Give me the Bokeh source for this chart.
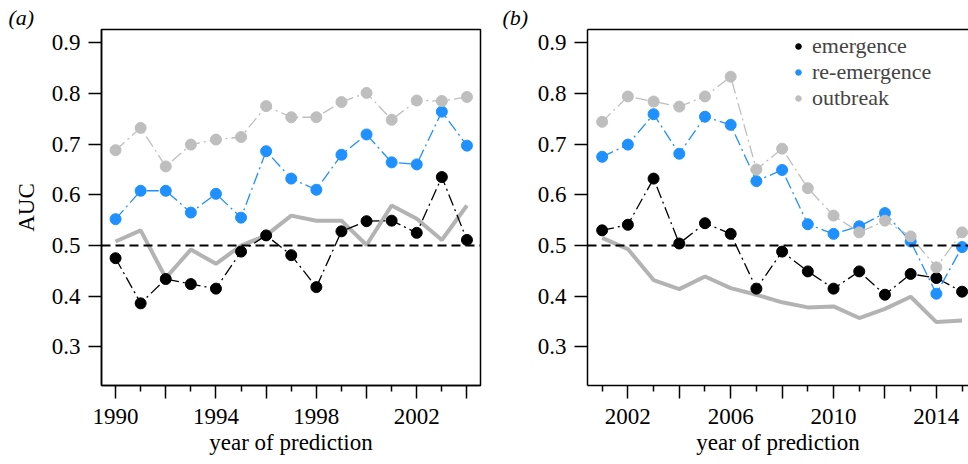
from bokeh.plotting import figure
from bokeh.models import Range1d, FixedTicker, Span, Legend, LegendItem, Title, LinearAxis
from bokeh.layouts import row
from bokeh.embed import file_html
from bokeh.resources import INLINE

# ---------------- data ----------------
years_a = list(range(1990, 2005))
emergence_a = [0.475, 0.386, 0.434, 0.424, 0.415, 0.488, 0.520, 0.481, 0.418, 0.528, 0.548, 0.549, 0.525, 0.635, 0.511]
reemergence_a = [0.552, 0.608, 0.608, 0.565, 0.602, 0.555, 0.686, 0.632, 0.610, 0.679, 0.719, 0.664, 0.660, 0.764, 0.697]
outbreak_a = [0.688, 0.732, 0.656, 0.699, 0.709, 0.714, 0.775, 0.753, 0.753, 0.783, 0.801, 0.748, 0.786, 0.785, 0.793]
baseline_a = [0.508, 0.530, 0.436, 0.492, 0.464, 0.500, 0.520, 0.559, 0.549, 0.549, 0.501, 0.579, 0.553, 0.511, 0.579]

years_b = list(range(2001, 2016))
emergence_b = [0.530, 0.541, 0.632, 0.504, 0.544, 0.523, 0.415, 0.488, 0.449, 0.415, 0.449, 0.403, 0.444, 0.436, 0.409]
reemergence_b = [0.675, 0.699, 0.759, 0.681, 0.754, 0.738, 0.627, 0.649, 0.542, 0.523, 0.538, 0.564, 0.508, 0.405, 0.497]
outbreak_b = [0.744, 0.794, 0.784, 0.774, 0.794, 0.833, 0.650, 0.691, 0.613, 0.559, 0.526, 0.549, 0.518, 0.457, 0.526]
baseline_b = [0.515, 0.493, 0.432, 0.414, 0.439, 0.416, 0.403, 0.388, 0.378, 0.380, 0.357, 0.375, 0.399, 0.349, 0.352]

y_ticks = [0.3, 0.4, 0.5, 0.6, 0.7, 0.8, 0.9]
x_major_a = list(range(1990, 2005, 2))
x_minor_a = list(range(1991, 2005, 2))
x_labels_a = [1990, 1994, 1998, 2002]
x_major_b = list(range(2002, 2016, 2))
x_minor_b = list(range(2001, 2016, 2))
x_labels_b = [2002, 2006, 2010, 2014]

series_names = ["emergence", "re-emergence", "outbreak"]
series_colors = ["#000000", "#1E90FF", "#BEBEBE"]
baseline_color = "#B3B3B3"
FONT = "Liberation Serif"
FS = "23px"


def make_panel(years, series, baseline, xr, major, minor, labels, width,
               border_left, border_right, ylabel, tag, tag_offset):
    p = figure(width=width, height=464, output_backend="svg", toolbar_location=None,
               x_range=Range1d(*xr), y_range=Range1d(0.224, 0.926),
               min_border_left=border_left, min_border_right=border_right,
               min_border_top=29, min_border_bottom=79)
    p.grid.visible = False
    p.background_fill_color = "white"
    p.border_fill_color = "white"
    p.outline_line_color = "black"
    p.outline_line_width = 1.5
    p.outline_line_alpha = 1.0

    p.title = Title(text=tag, align="left", offset=tag_offset, standoff=0,
                    text_font=FONT, text_font_size="22px", text_font_style="italic",
                    text_color="black", vertical_align="bottom")

    # axes
    xa = p.xaxis[0]
    xa.ticker = FixedTicker(ticks=major, minor_ticks=minor)
    xa.major_label_overrides = {t: (str(t) if t in labels else "") for t in major}
    xa.axis_label = "year of prediction"
    ya = p.yaxis[0]
    ya.ticker = FixedTicker(ticks=y_ticks, minor_ticks=[])
    ya.axis_label = ylabel
    for ax in (xa, ya):
        ax.axis_line_color = "black"
        ax.axis_line_width = 1.5
        ax.major_tick_line_color = "black"
        ax.major_tick_line_width = 1.5
        ax.major_tick_out = 13
        ax.major_tick_in = 0
        ax.minor_tick_line_color = "black"
        ax.minor_tick_line_width = 1.5
        ax.minor_tick_out = 6
        ax.minor_tick_in = 0
        ax.major_label_text_font = FONT
        ax.major_label_text_font_size = FS
        ax.major_label_text_color = "black"
        ax.axis_label_text_font = FONT
        ax.axis_label_text_font_size = FS
        ax.axis_label_text_font_style = "normal"
        ax.axis_label_text_color = "black"
    xa.major_label_standoff = 10
    xa.axis_label_standoff = 3
    ya.major_label_standoff = 8
    ya.axis_label_standoff = 10

    # thick gray baseline
    p.line(years, baseline, line_color=baseline_color, line_width=4)
    # reference line at 0.5
    span = Span(location=0.5, dimension="width", line_color="black",
                line_width=2, line_dash="9 5", level="glyph")
    p.add_layout(span)

    renderers = []
    for vals, col in zip(series, series_colors):
        p.line(years, vals, line_color=col, line_width=1.3, line_dash="12 4 2 4")
    for vals, col in zip(series, series_colors):
        r = p.scatter(years, vals, size=11, fill_color=col, line_color=col)
        renderers.append(r)
    return p, renderers


pa, _ = make_panel(years_a, [emergence_a, reemergence_a, outbreak_a], baseline_a,
                   (1989.44, 2004.54), x_major_a, x_minor_a, x_labels_a, 490, 101, 10,
                   "AUC", "(a)", -93)

pb, rb = make_panel(years_b, [emergence_b, reemergence_b, outbreak_b], baseline_b,
                    (2000.43, 2015.25), x_major_b, x_minor_b, x_labels_b, 478, 97, 0,
                    "", "(b)", -85)
# right side of panel b is cut off in the reference: draw only left/top/bottom lines
pb.outline_line_color = None
top_axis = LinearAxis(ticker=FixedTicker(ticks=[]), major_label_text_font_size="0px",
                      axis_line_color="black", axis_line_width=1.5,
                      major_tick_line_color=None, minor_tick_line_color=None)
pb.add_layout(top_axis, "above")

legend = Legend(items=[LegendItem(label=n, renderers=[r]) for n, r in zip(series_names, rb)],
                location=(204, 274), padding=0, margin=0, spacing=0,
                glyph_width=14, glyph_height=14, label_standoff=7,
                label_text_font=FONT, label_text_font_size="22px",
                border_line_color=None, background_fill_alpha=0)
pb.add_layout(legend)

layout = row(pa, pb)
open("out.html", "w").write(file_html(layout, INLINE))
